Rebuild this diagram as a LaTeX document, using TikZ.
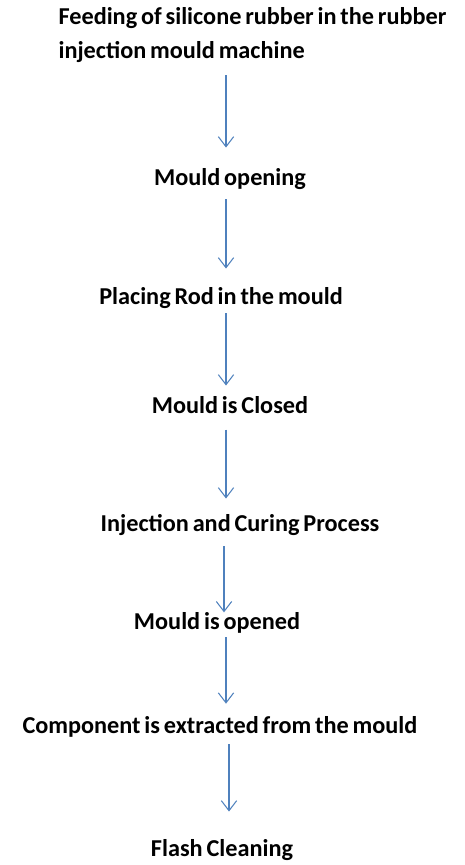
\documentclass[tikz,border=0pt]{standalone}
\usepackage{fontspec}
\setmainfont{Carlito}[WordSpace=0.7]
\usetikzlibrary{arrows.meta, calc}
\definecolor{arrowblue}{RGB}{79,129,189}

\begin{document}
\begin{tikzpicture}
 \tikzstyle{stage}=[inner sep=0pt, font=\bfseries\fontsize{20.7}{29}\selectfont]
 \tikzstyle{arr}=[-{Straight Barb[length=3mm, width=4.6mm]}, draw=arrowblue, line width=0.9pt]

 \useasboundingbox (0,0) rectangle (13.95,-25.95);
 \coordinate (axis) at (6.78,0);

 % Process steps
 \node (nfeed) at (1.75,-1.05) [stage, anchor=west, align=left] {Feeding of silicone rubber in the rubber\\injection mould machine};
 \node (nopen) at (6.9,-5.37) [stage] {Mould opening};
 \node (nrod) at (6.63,-8.94) [stage] {Placing Rod in the mould};
 \node (nclosed) at (6.9,-12.15) [stage] {Mould is Closed};
 \node (ninject) at (7.2,-15.75) [stage] {Injection and Curing Process};
 \node (nopened) at (6.51,-18.69) [stage] {Mould is opened};
 \node (nextract) at (6.6,-21.81) [stage] {Component is extracted from the mould};
 \node (nflash) at (6.66,-25.5) [stage] {Flash Cleaning};

 % Flow
 \draw [arr, shorten <=0.38cm, shorten >=0.62cm] (nfeed.south -| axis) -- (nopen.north -| axis);
 \draw [arr, shorten <=0.29cm, shorten >=0.56cm] (nopen.south -| axis) -- (nrod.north -| axis);
 \draw [arr, shorten <=0.14cm, shorten >=0.32cm] (nrod.south -| axis) -- (nclosed.north -| axis);
 \draw [arr, shorten <=0.47cm, shorten >=0.47cm] (nclosed.south -| axis) -- (ninject.north -| axis);
 \draw [arr, shorten <=0.32cm, shorten >=0cm] ($(ninject.south -| axis) + (-0.06,0)$) -- ($(nopened.north -| axis) + (-0.06,0)$);
 \draw [arr, shorten <=0.11cm, shorten >=0.38cm] (nopened.south -| axis) -- (nextract.north -| axis);
 \draw [arr, shorten <=0.2cm, shorten >=0.83cm] ($(nextract.south -| axis) + (0.09,0)$) -- ($(nflash.north -| axis) + (0.09,0)$);

\end{tikzpicture}
\end{document}
